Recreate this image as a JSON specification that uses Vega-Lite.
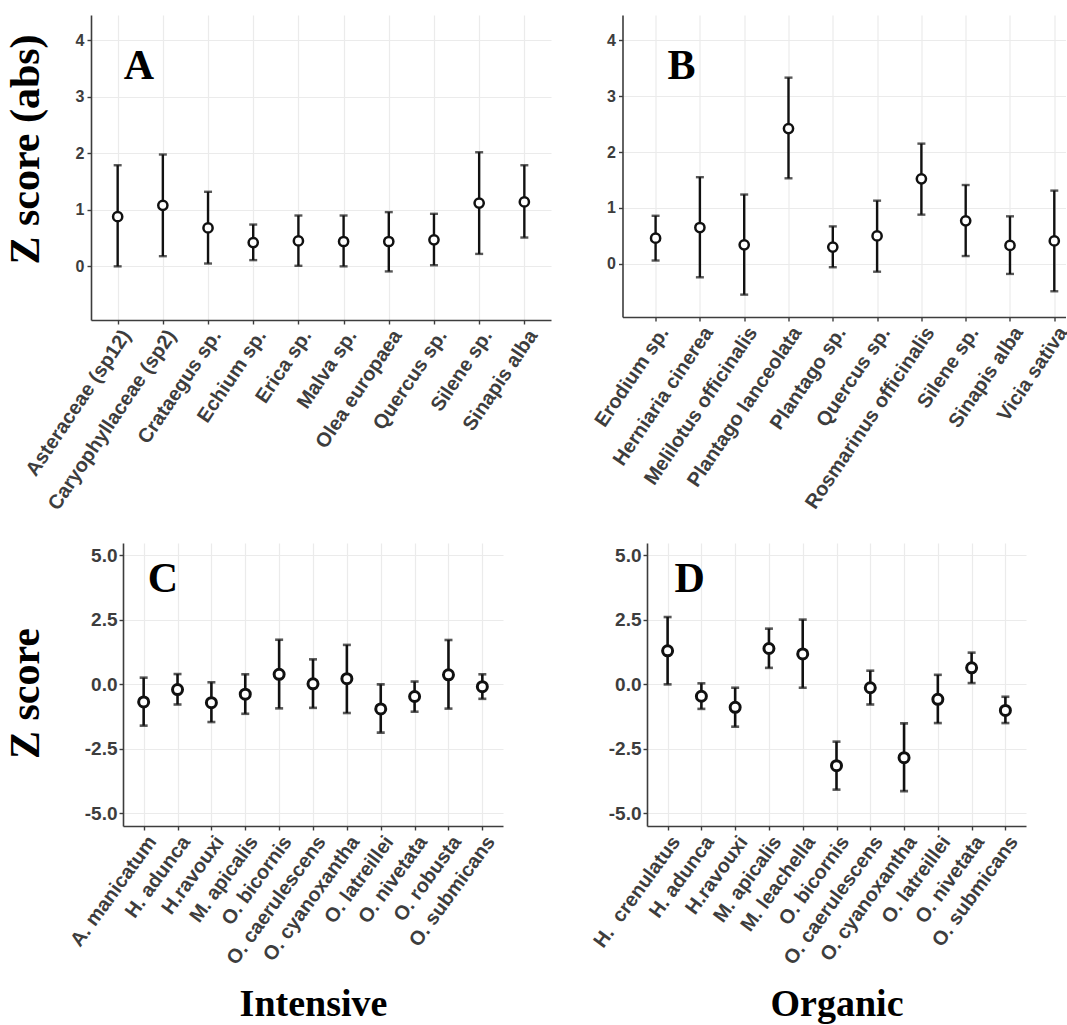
{
  "$schema": "https://vega.github.io/schema/vega-lite/v6.json",
  "padding": {"left": 4, "top": 15, "right": 0, "bottom": 0},
  "background": "white",
  "bounds": "flush",
  "spacing": 528,
  "config": {
    "view": {"stroke": null},
    "axis": {
      "labelFont": "Liberation Sans", "labelFontWeight": "bold", "labelColor": "#3d3d3d",
      "labelOverlap": false, "labelLimit": 0,
      "domainColor": "#3d3d3d", "domainWidth": 1.6,
      "tickColor": "#3d3d3d", "tickWidth": 1.4, "tickSize": 4,
      "grid": true, "gridColor": "#ebebeb", "gridWidth": 1.2,
      "titleFont": "Liberation Serif", "titleFontWeight": "bold", "titleColor": "#000000"
    },
    "axisX": {"labelAngle": -56, "labelAlign": "right", "labelBaseline": "top", "labelFontSize": 20, "labelPadding": 2},
    "axisY": {"labelFontSize": 16, "labelPadding": 3}
  },
  "datasets": {
    "A": [
      {"taxon": "Asteraceae (sp12)", "z": 0.88, "lo": 0.0, "hi": 1.79},
      {"taxon": "Caryophyllaceae (sp2)", "z": 1.08, "lo": 0.18, "hi": 1.98},
      {"taxon": "Crataegus sp.", "z": 0.68, "lo": 0.05, "hi": 1.32},
      {"taxon": "Echium sp.", "z": 0.42, "lo": 0.11, "hi": 0.74},
      {"taxon": "Erica sp.", "z": 0.45, "lo": 0.01, "hi": 0.90},
      {"taxon": "Malva sp.", "z": 0.44, "lo": 0.0, "hi": 0.90},
      {"taxon": "Olea europaea", "z": 0.44, "lo": -0.09, "hi": 0.96},
      {"taxon": "Quercus sp.", "z": 0.47, "lo": 0.02, "hi": 0.93},
      {"taxon": "Silene sp.", "z": 1.12, "lo": 0.22, "hi": 2.02},
      {"taxon": "Sinapis alba", "z": 1.14, "lo": 0.51, "hi": 1.79}
    ],
    "B": [
      {"taxon": "Erodium sp.", "z": 0.46, "lo": 0.06, "hi": 0.86},
      {"taxon": "Herniaria cinerea", "z": 0.65, "lo": -0.24, "hi": 1.55},
      {"taxon": "Melilotus officinalis", "z": 0.34, "lo": -0.55, "hi": 1.24},
      {"taxon": "Plantago lanceolata", "z": 2.42, "lo": 1.53, "hi": 3.33},
      {"taxon": "Plantago sp.", "z": 0.30, "lo": -0.06, "hi": 0.67},
      {"taxon": "Quercus sp.", "z": 0.50, "lo": -0.14, "hi": 1.13},
      {"taxon": "Rosmarinus officinalis", "z": 1.52, "lo": 0.88, "hi": 2.15},
      {"taxon": "Silene sp.", "z": 0.77, "lo": 0.14, "hi": 1.41},
      {"taxon": "Sinapis alba", "z": 0.33, "lo": -0.18, "hi": 0.85},
      {"taxon": "Vicia sativa", "z": 0.41, "lo": -0.49, "hi": 1.31}
    ],
    "C": [
      {"taxon": "A. manicatum", "z": -0.69, "lo": -1.61, "hi": 0.25},
      {"taxon": "H. adunca", "z": -0.21, "lo": -0.79, "hi": 0.39},
      {"taxon": "H.ravouxi", "z": -0.72, "lo": -1.47, "hi": 0.07},
      {"taxon": "M. apicalis", "z": -0.39, "lo": -1.15, "hi": 0.38},
      {"taxon": "O. bicornis", "z": 0.38, "lo": -0.94, "hi": 1.72},
      {"taxon": "O. caerulescens", "z": 0.01, "lo": -0.92, "hi": 0.96},
      {"taxon": "O. cyanoxantha", "z": 0.21, "lo": -1.12, "hi": 1.52},
      {"taxon": "O. latreillei", "z": -0.96, "lo": -1.88, "hi": -0.01},
      {"taxon": "O. nivetata", "z": -0.48, "lo": -1.07, "hi": 0.10},
      {"taxon": "O. robusta", "z": 0.36, "lo": -0.95, "hi": 1.71},
      {"taxon": "O. submicans", "z": -0.10, "lo": -0.57, "hi": 0.38}
    ],
    "D": [
      {"taxon": "H.\u00a0 crenulatus", "z": 1.29, "lo": -0.01, "hi": 2.60},
      {"taxon": "H. adunca", "z": -0.47, "lo": -0.96, "hi": 0.03},
      {"taxon": "H.ravouxi", "z": -0.90, "lo": -1.65, "hi": -0.14},
      {"taxon": "M. apicalis", "z": 1.38, "lo": 0.63, "hi": 2.15},
      {"taxon": "M. leachella", "z": 1.17, "lo": -0.14, "hi": 2.50},
      {"taxon": "O. bicornis", "z": -3.16, "lo": -4.09, "hi": -2.23},
      {"taxon": "O. caerulescens", "z": -0.14, "lo": -0.79, "hi": 0.52},
      {"taxon": "O. cyanoxantha", "z": -2.85, "lo": -4.15, "hi": -1.52},
      {"taxon": "O. latreillei", "z": -0.59, "lo": -1.51, "hi": 0.36},
      {"taxon": "O. nivetata", "z": 0.63, "lo": 0.04, "hi": 1.22},
      {"taxon": "O. submicans", "z": -1.02, "lo": -1.51, "hi": -0.49}
    ]
  },
  "vconcat": [
    {
      "bounds": "flush",
      "spacing": 33,
      "hconcat": [
        {
          "width": 1, "height": 305,
          "data": {"values": [{}]},
          "mark": {"type": "point", "opacity": 0},
          "encoding": {"y": {"datum": 0, "type": "quantitative", "scale": {"domain": [-0.95, 4.45], "nice": false, "zero": false},
                             "axis": {"title": "Z score (abs)", "labels": false, "ticks": false, "domain": false, "grid": false, "titleFontSize": 42, "titlePadding": 10, "titleY": 134}}}
        },
        {
          "bounds": "flush",
          "spacing": 71.5,
          "hconcat": [
            {
              "width": 460, "height": 305,
              "data": {"name": "A"},
              "encoding": {"x": {"field": "taxon", "type": "nominal", "sort": null, "scale": {"type": "point", "padding": 0.59}, "axis": {"title": null}}},
              "layer": [
                {"mark": {"type": "rule", "color": "#111111", "strokeWidth": 2.4},
                 "encoding": {"y": {"field": "lo", "type": "quantitative", "scale": {"domain": [-0.95, 4.45], "nice": false, "zero": false},
                                    "axis": {"values": [0, 1, 2, 3, 4], "format": "d", "title": null}},
                              "y2": {"field": "hi"}}},
                {"mark": {"type": "tick", "color": "#111111", "size": 8, "thickness": 2.4},
                 "encoding": {"y": {"field": "lo", "type": "quantitative", "title": null}}},
                {"mark": {"type": "tick", "color": "#111111", "size": 8, "thickness": 2.4},
                 "encoding": {"y": {"field": "hi", "type": "quantitative", "title": null}}},
                {"mark": {"type": "point", "shape": "circle", "size": 85, "filled": true, "fill": "white", "stroke": "#111111", "strokeWidth": 2.5, "opacity": 1},
                 "encoding": {"y": {"field": "z", "type": "quantitative", "title": null}}},
                {"data": {"values": [{}]},
                 "mark": {"type": "text", "text": "A", "font": "Liberation Serif", "fontWeight": "bold", "fontSize": 42, "align": "left", "baseline": "alphabetic", "dx": 6, "color": "#000000"},
                 "encoding": {"x": {"datum": "Asteraceae (sp12)"}, "y": {"datum": 3.31}}}
              ]
            },
            {
              "width": 443, "height": 302,
              "data": {"name": "B"},
              "encoding": {"x": {"field": "taxon", "type": "nominal", "sort": null, "scale": {"type": "point", "paddingOuter": 0.4, "align": 0.747}, "axis": {"title": null}}},
              "layer": [
                {"mark": {"type": "rule", "color": "#111111", "strokeWidth": 2.4},
                 "encoding": {"y": {"field": "lo", "type": "quantitative", "scale": {"domain": [-0.95, 4.45], "nice": false, "zero": false},
                                    "axis": {"values": [0, 1, 2, 3, 4], "format": "d", "title": null}},
                              "y2": {"field": "hi"}}},
                {"mark": {"type": "tick", "color": "#111111", "size": 8, "thickness": 2.4},
                 "encoding": {"y": {"field": "lo", "type": "quantitative", "title": null}}},
                {"mark": {"type": "tick", "color": "#111111", "size": 8, "thickness": 2.4},
                 "encoding": {"y": {"field": "hi", "type": "quantitative", "title": null}}},
                {"mark": {"type": "point", "shape": "circle", "size": 85, "filled": true, "fill": "white", "stroke": "#111111", "strokeWidth": 2.5, "opacity": 1},
                 "encoding": {"y": {"field": "z", "type": "quantitative", "title": null}}},
                {"data": {"values": [{}]},
                 "mark": {"type": "text", "text": "B", "font": "Liberation Serif", "fontWeight": "bold", "fontSize": 42, "align": "left", "baseline": "alphabetic", "dx": 12, "color": "#000000"},
                 "encoding": {"x": {"datum": "Erodium sp."}, "y": {"datum": 3.30}}}
              ]
            }
          ]
        }
      ]
    },
    {
      "bounds": "flush",
      "spacing": 65,
      "hconcat": [
        {
          "width": 1, "height": 283,
          "data": {"values": [{}]},
          "mark": {"type": "point", "opacity": 0},
          "encoding": {"y": {"datum": 0, "type": "quantitative", "scale": {"domain": [-5.5, 5.47], "nice": false, "zero": false},
                             "axis": {"title": "Z score", "labels": false, "ticks": false, "domain": false, "grid": false, "titleFontSize": 42, "titlePadding": 10, "titleY": 150}}}
        },
        {
          "bounds": "flush",
          "spacing": 144,
          "hconcat": [
            {
              "width": 380, "height": 283,
              "data": {"name": "C"},
              "encoding": {"x": {"field": "taxon", "type": "nominal", "sort": null, "scale": {"type": "point", "padding": 0.61},
                                 "axis": {"title": "Intensive", "labelAngle": -54, "titleFontSize": 38, "titlePadding": 18}}},
              "layer": [
                {"mark": {"type": "rule", "color": "#111111", "strokeWidth": 2.6},
                 "encoding": {"y": {"field": "lo", "type": "quantitative", "scale": {"domain": [-5.5, 5.47], "nice": false, "zero": false},
                                    "axis": {"values": [-5, -2.5, 0, 2.5, 5], "labelExpr": "datum.value < 0 ? '-' + format(-datum.value, '.1f') : format(datum.value, '.1f')", "labelFontSize": 19, "labelPadding": 2, "title": null}},
                              "y2": {"field": "hi"}}},
                {"mark": {"type": "tick", "color": "#111111", "size": 8, "thickness": 2.6},
                 "encoding": {"y": {"field": "lo", "type": "quantitative", "title": null}}},
                {"mark": {"type": "tick", "color": "#111111", "size": 8, "thickness": 2.6},
                 "encoding": {"y": {"field": "hi", "type": "quantitative", "title": null}}},
                {"mark": {"type": "point", "shape": "circle", "size": 100, "filled": true, "fill": "white", "stroke": "#111111", "strokeWidth": 3, "opacity": 1},
                 "encoding": {"y": {"field": "z", "type": "quantitative", "title": null}}},
                {"data": {"values": [{}]},
                 "mark": {"type": "text", "text": "C", "font": "Liberation Serif", "fontWeight": "bold", "fontSize": 42, "align": "left", "baseline": "alphabetic", "dx": 4, "color": "#000000"},
                 "encoding": {"x": {"datum": "A. manicatum"}, "y": {"datum": 3.57}}}
              ]
            },
            {
              "width": 379, "height": 283,
              "data": {"name": "D"},
              "encoding": {"x": {"field": "taxon", "type": "nominal", "sort": null, "scale": {"type": "point", "padding": 0.61},
                                 "axis": {"title": "Organic", "labelAngle": -54, "titleFontSize": 38, "titlePadding": 18}}},
              "layer": [
                {"mark": {"type": "rule", "color": "#111111", "strokeWidth": 2.6},
                 "encoding": {"y": {"field": "lo", "type": "quantitative", "scale": {"domain": [-5.5, 5.47], "nice": false, "zero": false},
                                    "axis": {"values": [-5, -2.5, 0, 2.5, 5], "labelExpr": "datum.value < 0 ? '-' + format(-datum.value, '.1f') : format(datum.value, '.1f')", "labelFontSize": 19, "labelPadding": 2, "title": null}},
                              "y2": {"field": "hi"}}},
                {"mark": {"type": "tick", "color": "#111111", "size": 8, "thickness": 2.6},
                 "encoding": {"y": {"field": "lo", "type": "quantitative", "title": null}}},
                {"mark": {"type": "tick", "color": "#111111", "size": 8, "thickness": 2.6},
                 "encoding": {"y": {"field": "hi", "type": "quantitative", "title": null}}},
                {"mark": {"type": "point", "shape": "circle", "size": 100, "filled": true, "fill": "white", "stroke": "#111111", "strokeWidth": 3, "opacity": 1},
                 "encoding": {"y": {"field": "z", "type": "quantitative", "title": null}}},
                {"data": {"values": [{}]},
                 "mark": {"type": "text", "text": "D", "font": "Liberation Serif", "fontWeight": "bold", "fontSize": 42, "align": "left", "baseline": "alphabetic", "dx": 7, "color": "#000000"},
                 "encoding": {"x": {"datum": "H.\u00a0 crenulatus"}, "y": {"datum": 3.57}}}
              ]
            }
          ]
        }
      ]
    }
  ]
}
